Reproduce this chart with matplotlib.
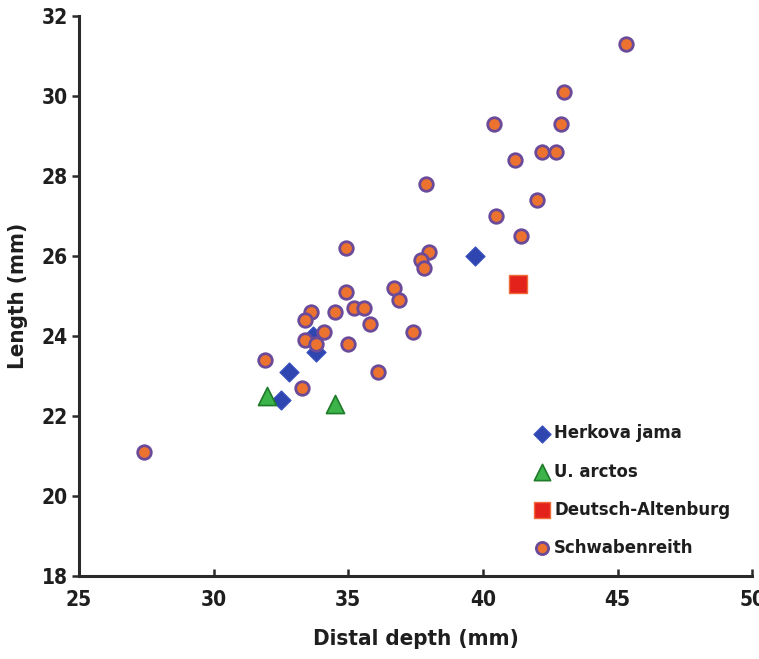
import matplotlib.pyplot as plt

# distal depth (x) and length (y), mm
herkova_x = [39.7, 33.7, 33.8, 32.8, 32.5]
herkova_y = [26.0, 24.0, 23.6, 23.1, 22.4]

arctos_x = [32.0, 34.5]
arctos_y = [22.5, 22.3]

deutsch_x = [41.3]
deutsch_y = [25.3]

schwab_x = [45.3, 43.0, 42.9, 40.4, 42.2, 42.7, 41.2, 37.9, 42.0, 40.5,
            41.4, 38.0, 37.7, 37.8, 36.7, 36.9, 37.4, 34.9, 34.9, 33.6,
            33.4, 34.5, 35.2, 35.6, 35.8, 34.1, 33.4, 33.8, 35.0, 31.9,
            36.1, 33.3, 27.4]
schwab_y = [31.3, 30.1, 29.3, 29.3, 28.6, 28.6, 28.4, 27.8, 27.4, 27.0,
            26.5, 26.1, 25.9, 25.7, 25.2, 24.9, 24.1, 26.2, 25.1, 24.6,
            24.4, 24.6, 24.7, 24.7, 24.3, 24.1, 23.9, 23.8, 23.8, 23.4,
            23.1, 22.7, 21.1]

plt.rcParams['font.family'] = ['DejaVu Sans']
plt.rcParams['font.stretch'] = 'condensed'
plt.rcParams['font.weight'] = 'bold'

fig = plt.figure(figsize=(7.59, 6.59), dpi=100)
ax = fig.add_axes([0.104, 0.1264, 0.887, 0.8496])

ax.scatter(herkova_x, herkova_y, marker='D', s=95, color='#2f45b0',
           edgecolors='#3850c0', linewidths=0.8, label='Herkova jama', zorder=3)
ax.scatter(arctos_x, arctos_y, marker='^', s=170, color='#3cb449',
           edgecolors='#1f7a2a', linewidths=1.2, label='U. arctos', zorder=3)
ax.scatter(deutsch_x, deutsch_y, marker='s', s=150, color='#e3231b',
           edgecolors='#f06a3a', linewidths=1.0, label='Deutsch-Altenburg', zorder=3)
ax.scatter(schwab_x, schwab_y, marker='o', s=95, color='#ec7230',
           edgecolors='#6b4a9a', linewidths=2.0, label='Schwabenreith', zorder=4)

ax.set_xlim(25, 50)
ax.set_ylim(18, 32)
ax.set_xticks([25, 30, 35, 40, 45, 50])
ax.set_yticks([18, 20, 22, 24, 26, 28, 30, 32])

for side in ['top', 'right']:
    ax.spines[side].set_visible(False)
for side in ['left', 'bottom']:
    ax.spines[side].set_linewidth(2.2)
    ax.spines[side].set_color('#2a2a2a')

ax.tick_params(axis='y', direction='out', length=5, width=1.8, color='#2a2a2a',
               labelsize=15, labelcolor='#1e1e1e', pad=3)
ax.tick_params(axis='x', direction='in', length=5, width=1.8, color='#2a2a2a',
               labelsize=15, labelcolor='#1e1e1e', pad=10)

ax.set_xlabel('Distal depth (mm)', fontsize=16, fontweight='bold', color='#1e1e1e', labelpad=14)
ax.set_ylabel('Length (mm)', fontsize=16, fontweight='bold', color='#1e1e1e', labelpad=10)

leg = ax.legend(loc='lower right', bbox_to_anchor=(0.984, 0.014), frameon=False,
                fontsize=13.2, handlelength=0.7, handletextpad=0.3, labelspacing=1.1,
                borderaxespad=0.2, markerscale=0.9)
for t in leg.get_texts():
    t.set_color('#1e1e1e')
    t.set_fontweight('bold')

fig.savefig('out.png', dpi=100)
